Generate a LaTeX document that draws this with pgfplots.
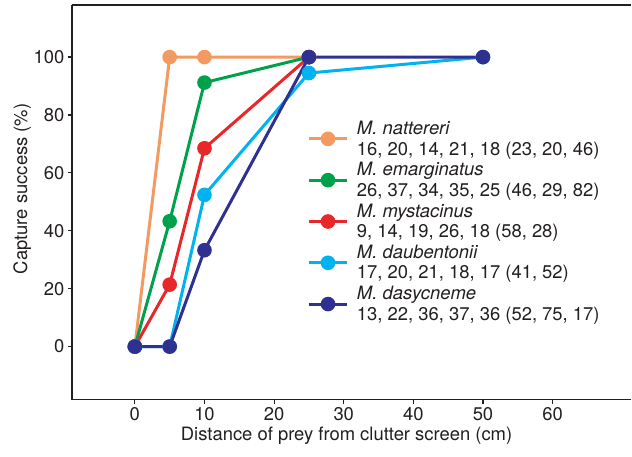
\documentclass[border=0pt]{standalone}
\usepackage{fontspec}
\setmainfont{TeX Gyre Heros}
\usepackage{pgfplots}
\pgfplotsset{compat=1.18}
\definecolor{cnat}{HTML}{F39A62}
\definecolor{cema}{HTML}{00A14B}
\definecolor{cmys}{HTML}{E8272A}
\definecolor{cdau}{HTML}{00B3F0}
\definecolor{cdas}{HTML}{2E3192}
\definecolor{axisgray}{HTML}{231F20}
\definecolor{textgray}{HTML}{231F20}

\begin{document}
\begin{tikzpicture}
\begin{axis}[
    width=560bp, height=395bp, scale only axis,
    xmin=-9.04, xmax=71.3, ymin=-18.3, ymax=118,
    axis x line=box, axis y line=left,
    axis line style={-, line width=1.4bp, color=axisgray},
    xtick={0,10,...,60}, ytick={0,20,...,100},
    xtick pos=bottom, ytick pos=left,
    tick align=outside, major tick length=4bp,
    tick style={line width=1.2bp, color=axisgray},
    /pgf/number format/assume math mode=true,
    ticklabel style={font=\fontsize{18.5}{21}\selectfont, text=textgray},
    label style={font=\fontsize{18.5}{21}\selectfont, text=textgray},
    xlabel={Distance of prey from clutter screen (cm)},
    ylabel={Capture success (\%)},
    xlabel style={at={(axis description cs:0.491,-0.093)}, anchor=center},
    ylabel style={at={(axis description cs:-0.089,0.534)}, anchor=center},
    every axis plot/.append style={line width=3bp, mark=*, mark size=5.8bp},
    legend image code/.code={\draw[mark repeat=2,mark phase=2,#1] plot coordinates {(0bp,0bp) (19.5bp,0bp) (39bp,0bp)};},
    legend cell align=left,
    legend style={at={(axis cs:24.7,78.6)}, anchor=north west, draw=none, fill=none,
        font=\fontsize{18.5}{20.5}\selectfont, text=textgray,
        inner sep=0pt, row sep=2bp,
        cells={align=left}, nodes={inner xsep=8bp}},
]
\addplot[color=cnat] coordinates {(0,0) (5,100) (10,100) (25,100)};
\addlegendentry{\textit{M. nattereri}\\16, 20, 14, 21, 18 (23, 20, 46)}
\addplot[color=cema] coordinates {(0,0) (5,43.3) (10,91.2) (25,100)};
\addlegendentry{\textit{M. emarginatus}\\26, 37, 34, 35, 25 (46, 29, 82)}
\addplot[color=cmys] coordinates {(0,0) (5,21.4) (10,68.5) (25,100)};
\addlegendentry{\textit{M. mystacinus}\\9, 14, 19, 26, 18 (58, 28)}
\addplot[color=cdau] coordinates {(0,0) (5,0) (10,52.4) (25,94.5) (50,100)};
\addlegendentry{\textit{M. daubentonii}\\17, 20, 21, 18, 17 (41, 52)}
\addplot[color=cdas] coordinates {(0,0) (5,0) (10,33.3) (25,100) (50,100)};
\addlegendentry{\textit{M. dasycneme}\\13, 22, 36, 37, 36 (52, 75, 17)}
\end{axis}
\path ([shift={(-72bp,-57bp)}]current axis.south west) rectangle ([shift={(0bp,5bp)}]current axis.north east);
\end{tikzpicture}
\end{document}
